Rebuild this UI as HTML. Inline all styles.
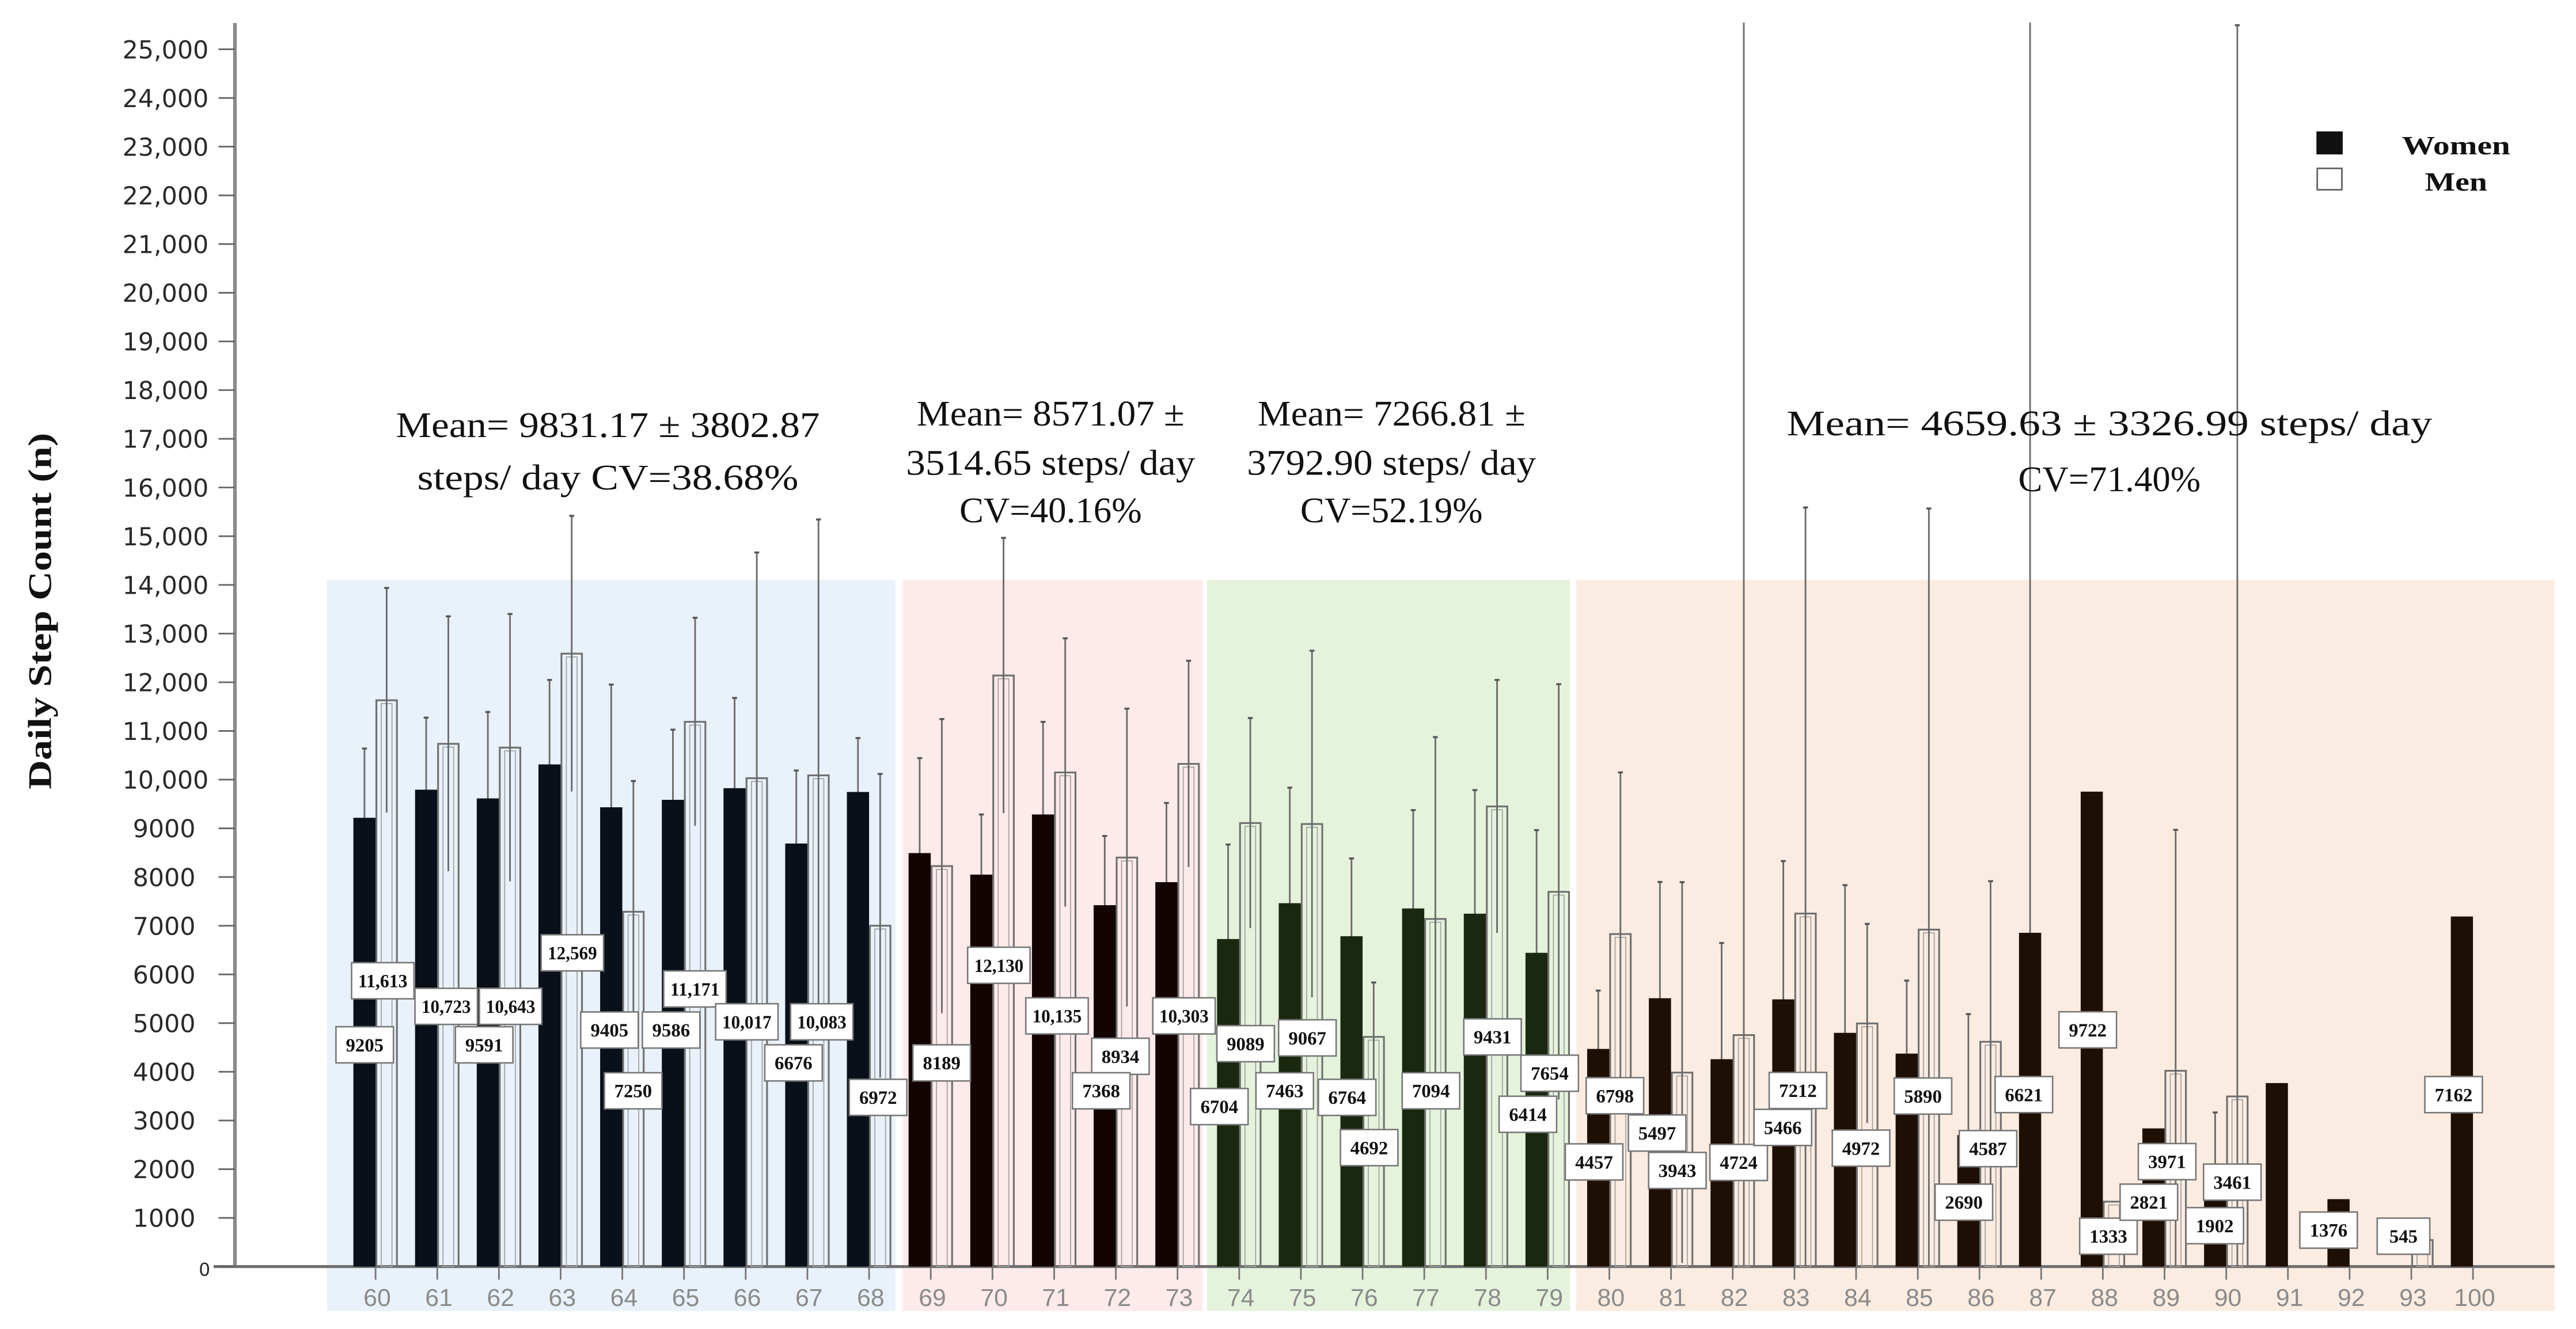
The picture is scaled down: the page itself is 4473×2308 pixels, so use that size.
<!DOCTYPE html>
<html>
<head>
<meta charset="utf-8">
<style>
html,body{margin:0;padding:0;background:#fff;}
svg{display:block;}
</style>
</head>
<body>
<svg id="chart" xmlns="http://www.w3.org/2000/svg" width="4473" height="2308" viewBox="0 0 1568 809" preserveAspectRatio="none">
  <g id="bg">
    <rect x="199" y="353" width="346" height="445" fill="#e9f1fa"/>
    <rect x="549.5" y="353" width="182.5" height="445" fill="#fdeaea"/>
    <rect x="734.7" y="353" width="221" height="445" fill="#e5f3dc"/>
    <rect x="959.4" y="353" width="595.6" height="445" fill="#fbece1"/>
  </g>
  <g id="axes"></g>
  <g id="marks"></g>
  <g id="labels"></g>
  <g id="annot" font-family="'Liberation Serif', serif" font-size="22" fill="#111" text-anchor="middle">
    <text x="370" y="266" textLength="258" lengthAdjust="spacingAndGlyphs">Mean= 9831.17 ± 3802.87</text>
    <text x="370" y="298" textLength="232" lengthAdjust="spacingAndGlyphs">steps/ day CV=38.68%</text>
    <text x="639.5" y="259" textLength="163" lengthAdjust="spacingAndGlyphs">Mean= 8571.07 ±</text>
    <text x="639.5" y="289" textLength="176" lengthAdjust="spacingAndGlyphs">3514.65 steps/ day</text>
    <text x="639.5" y="318" textLength="111" lengthAdjust="spacingAndGlyphs">CV=40.16%</text>
    <text x="847" y="259" textLength="163" lengthAdjust="spacingAndGlyphs">Mean= 7266.81 ±</text>
    <text x="847" y="289" textLength="176" lengthAdjust="spacingAndGlyphs">3792.90 steps/ day</text>
    <text x="847" y="318" textLength="111" lengthAdjust="spacingAndGlyphs">CV=52.19%</text>
    <text x="1284" y="265" textLength="393" lengthAdjust="spacingAndGlyphs">Mean= 4659.63 ± 3326.99 steps/ day</text>
    <text x="1284" y="299" textLength="111" lengthAdjust="spacingAndGlyphs">CV=71.40%</text>
  </g>
  <g id="legend" font-family="'Liberation Serif', serif" font-weight="bold" font-size="16" fill="#111">
    <rect x="1410" y="80" width="16" height="14" fill="#111"/>
    <text x="1462" y="94" textLength="66" lengthAdjust="spacingAndGlyphs">Women</text>
    <rect x="1410.5" y="102.5" width="15" height="13" fill="#fff" stroke="#666" stroke-width="1"/>
    <text x="1476" y="116" textLength="38" lengthAdjust="spacingAndGlyphs">Men</text>
  </g>
</svg>
<script>
const ages = ['60','61','62','63','64','65','66','67','68','69','70','71','72','73','74','75','76','77','78','79','80','81','82','83','84','85','86','87','88','89','90','91','92','93','100'];
const women = [9217,9794,9615,10313,9433,9586,9825,8688,9747,8492,8050,9285,7422,7895,6727,7463,6785,7355,7247,6444,4470,5511,4259,5488,4800,4374,2700,6855,9754,2838,1902,3769,1385,null,7190];
const womenSD = [1422,1480,1775,1735,2520,1441,1853,1500,1108,1951,1235,1902,1422,1627,1941,2373,1598,2020,2539,2520,1198,2388,2387,2840,3034,1500,2485,18700,0,0,1263,0,0,0,0];
const men = [11630,10736,10658,12588,7287,11188,10030,10088,7000,8225,12139,10148,8400,10324,9109,9089,4717,7139,9450,7696,6829,3984,4754,7250,4993,6920,4617,null,1333,4021,3494,null,null,545,null];
const menSD = [2307,2618,2745,2830,2686,2137,4636,5256,3118,3020,2827,2755,3059,2118,2157,3559,1118,3735,2598,4265,3320,3911,21000,8340,2045,8650,3298,0,0,4949,22000,0,0,0,0];
const yTicks = [0,1000,2000,3000,4000,5000,6000,7000,8000,9000,10000,11000,12000,13000,14000,15000,16000,17000,18000,19000,20000,21000,22000,23000,24000,25000];
const yTickLabels = ['0','1000','2000','3000','4000','5000','6000','7000','8000','9000','10,000','11,000','12,000','13,000','14,000','15,000','16,000','17,000','18,000','19,000','20,000','21,000','22,000','23,000','24,000','25,000'];
const labelTexts = ['9205','11,613','10,723','9591','10,643','12,569','9405','7250','9586','11,171','10,017','6676','10,083','6972','8189','12,130','10,135','8934','7368','10,303','9089','6704','9067','7463','6764','4692','7094','9431','6414','7654','4457','6798','5497','3943','4724','5466','7212','4972','5890','2690','4587','6621','9722','1333','2821','3971','3461','1902','1376','545','7162'];
// label box placement (layout only, not data)
const labelLayout = [[222,636],[233,597],[271.6,612.6],[294.7,636],[310.8,612.6],[348.4,580],[371,627],[385.4,664],[408.5,627],[423,602],[454.6,622],[483,647],[500.2,622],[534.5,668],[573.2,647],[608,587.6],[643.4,618.4],[682,643],[670.3,664],[720.7,618.4],[758.2,635.3],[742.2,673.6],[795.8,631.8],[782,664],[820,668],[833.4,698.6],[871,664],[908.5,631.2],[930,678.3],[943.3,653.3],[970.3,707.3],[983,667],[1008.7,689.7],[1021,712.5],[1058.3,707.6],[1085.2,686.3],[1094.4,663.8],[1132.8,698.9],[1170.5,667.2],[1195.4,731.8],[1210.1,699.2],[1231.9,666.3],[1270.8,626.9],[1283.4,752.5],[1308,731.8],[1319.1,707.1],[1358.8,719.6],[1348.1,746.1],[1417.4,748.8],[1463,752.5],[1493.5,666.3]];

const NS='http://www.w3.org/2000/svg';
const Y0=771, PER=0.02964, YMAXV=25550;
function yScale(v){return Y0 - Math.min(v,YMAXV)*PER;}
function xScale(i){return 228.6 + i*37.55;}
function groupColor(i){ if(i<=8) return '#09101a'; if(i<=13) return '#140303'; if(i<=19) return '#1a2810'; return '#1e0f05'; }
function mk(tag, attrs, parent){const e=document.createElementNS(NS,tag); for(const k in attrs) e.setAttribute(k,attrs[k]); parent.appendChild(e); return e;}

const axes=document.getElementById('axes');
let yl=mk('line',{x1:143,y1:14,x2:143,y2:771,stroke:'#8a8a8a','stroke-width':2.2},axes);


let xl=mk('line',{x1:130,y1:771,x2:1555,y2:771,stroke:'#6f6f6f','stroke-width':1.8},axes);


yTicks.forEach((v,k)=>{
  const y=yScale(v);
  const t=mk('line',{x1:133,y1:y,x2:143,y2:y,stroke:'#666','stroke-width':1},axes);
  
  
  const tx=mk('text',{x:(v===0?128:(v>=10000?127:119)),y:y+5.5,'text-anchor':'end','font-family':"'DejaVu Sans', sans-serif",'font-size':(v===0?11:15),fill:'#2a2a2a'},axes);
  tx.textContent=yTickLabels[k];
  
  
});
const yt=mk('text',{x:0,y:0,transform:'translate(31,372) rotate(-90)','text-anchor':'middle','font-family':"'Liberation Serif', serif",'font-weight':'bold','font-size':20,fill:'#111',textLength:217,lengthAdjust:'spacingAndGlyphs'},axes);
yt.textContent='Daily Step Count (n)';


ages.forEach((a,i)=>{
  const x=xScale(i);
  const t=mk('line',{x1:x,y1:771,x2:x,y2:779,stroke:'#777','stroke-width':1},axes);
  
  
  const tx=mk('text',{x:x+1,y:795,'text-anchor':'middle','font-family':"'Liberation Sans', sans-serif",'font-size':15,fill:'#8a8a8a'},axes);
  tx.textContent=a;
  
  
});

const marks=document.getElementById('marks');
const BW=13.5;
function whisker(x,v,sd,parent,name){
  const top=yScale(v+sd), bot=yScale(Math.max(0,v-sd));
  const l=mk('line',{x1:x,y1:top,x2:x,y2:bot,stroke:'#6a6a6a','stroke-width':1},parent);
  
  
  if(v+sd<YMAXV){
    const c=mk('line',{x1:x-1.5,y1:top,x2:x+1.5,y2:top,stroke:'#555','stroke-width':1.2},parent);
    
    
  }
}
ages.forEach((a,i)=>{
  if(women[i]!=null && womenSD[i]>0) whisker(xScale(i)-BW/2, women[i], womenSD[i], marks, 'women-error-bar-'+a);
});
ages.forEach((a,i)=>{
  if(women[i]!=null){
    const y=yScale(women[i]);
    const r=mk('rect',{x:xScale(i)-BW,y:y,width:BW,height:Y0-y,fill:groupColor(i)},marks);
    
    
  }
  if(men[i]!=null){
    const y=yScale(men[i]);
    const r=mk('rect',{x:xScale(i)+0.5,y:y,width:BW-1,height:Y0-y,fill:'none',stroke:'#707070','stroke-width':1.1},marks);
    
    
    const r2=mk('rect',{x:xScale(i)+3.5,y:y+2,width:BW-7,height:Math.max(0,Y0-y-2),fill:'none',stroke:'#a0a0a0','stroke-width':0.6},marks);
    
    
  }
});
ages.forEach((a,i)=>{
  if(men[i]!=null && menSD[i]>0) whisker(xScale(i)+BW/2, men[i], menSD[i], marks, 'men-error-bar-'+a);
});

const labels=document.getElementById('labels');
labelTexts.forEach((t,k)=>{
  const [cx,cy]=labelLayout[k];
  const w = t.length>=5?38:(t.length===3?32:35), h=22;
  const g=mk('g',{},labels);
  
  
  mk('rect',{x:cx-w/2,y:cy-h/2,width:w,height:h,fill:'#fff',stroke:'#777','stroke-width':0.9},g);
  const tx=mk('text',{x:cx,y:cy+4,'text-anchor':'middle','font-family':"'Liberation Serif', serif",'font-weight':'bold','font-size':11.5,fill:'#111'},g);
  if(t.length>=5){tx.setAttribute('textLength',30);tx.setAttribute('lengthAdjust','spacingAndGlyphs');}
  tx.textContent=t;
});
</script>
</body>
</html>
